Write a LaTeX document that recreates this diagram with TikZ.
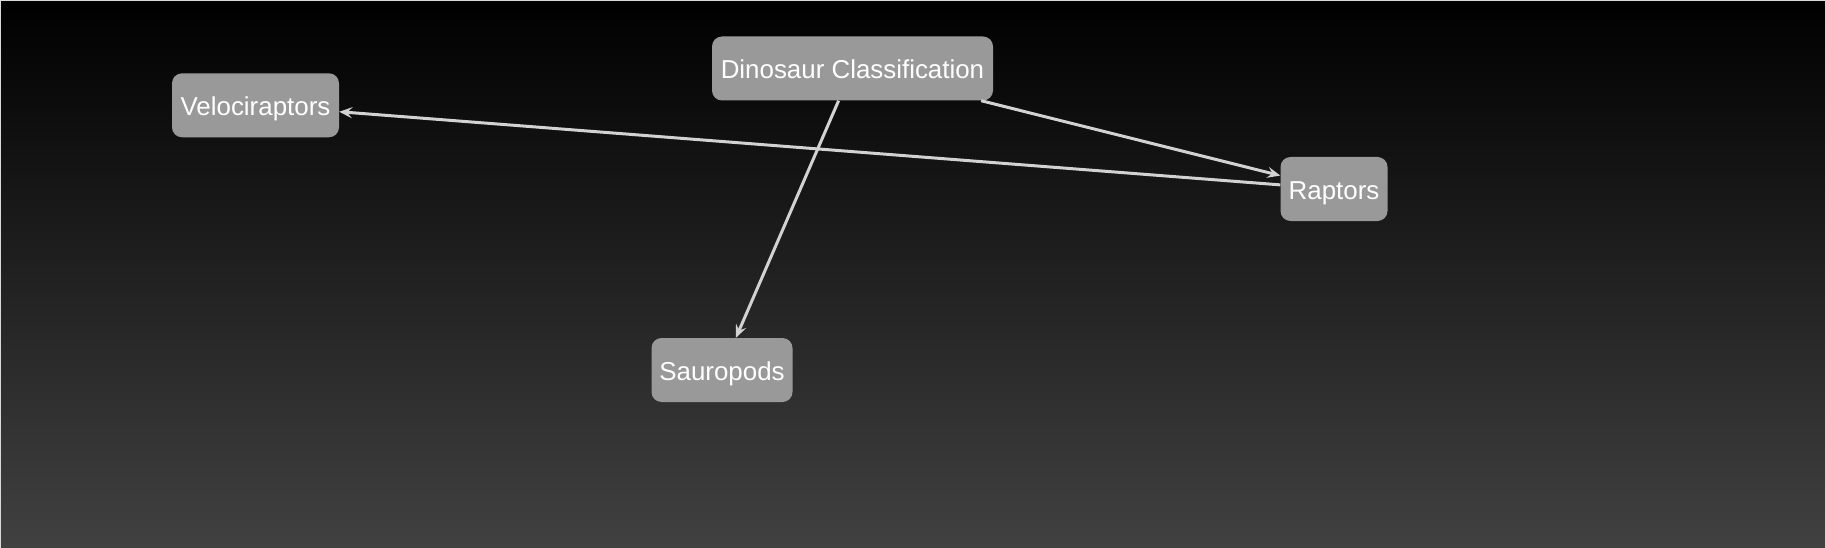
\documentclass[tikz,border=0pt]{standalone}
\usepackage{fontspec}
\setmainfont{Liberation Sans}
\usetikzlibrary{arrows.meta}
\definecolor{bgtop}{HTML}{000000}
\definecolor{bgbot}{HTML}{414141}
\definecolor{boxfill}{HTML}{999999}
\definecolor{edgecol}{HTML}{D2D2D2}
\tikzset{
  dbox/.style={draw=none, fill=boxfill, rounded corners=10pt, text=white, inner sep=0pt,
    font=\fontsize{25.9}{30}\selectfont, minimum height=64pt,
    text height=25.5pt, text depth=5pt},
  dlink/.style={draw=edgecol, line width=3pt, -{Stealth[length=13pt, width=11pt, inset=5pt]}}
}
\begin{document}
\begin{tikzpicture}[x=1pt, y=-1pt]
\useasboundingbox (0,0) rectangle (1825,548);
\shade[top color=bgtop, bottom color=bgbot] (0,0) rectangle (1825,548);
\draw[line width=1pt, color=black!15] (0,548) -- (0,0.5) -- (1825,0.5);
\node[dbox, minimum width=281pt] (dino) at (852.5,68.5) {Dinosaur Classification};
\node[dbox, minimum width=167pt] (velo) at (255.5,105.3) {Velociraptors};
\node[dbox, minimum width=107pt] (rapt) at (1334,189) {Raptors};
\node[dbox, minimum width=141pt] (saur) at (722,370) {Sauropods};
\draw[dlink] (dino) -- (rapt);
\draw[dlink] (dino) -- (saur);
\draw[dlink] (rapt) -- (velo);
\end{tikzpicture}
\end{document}
